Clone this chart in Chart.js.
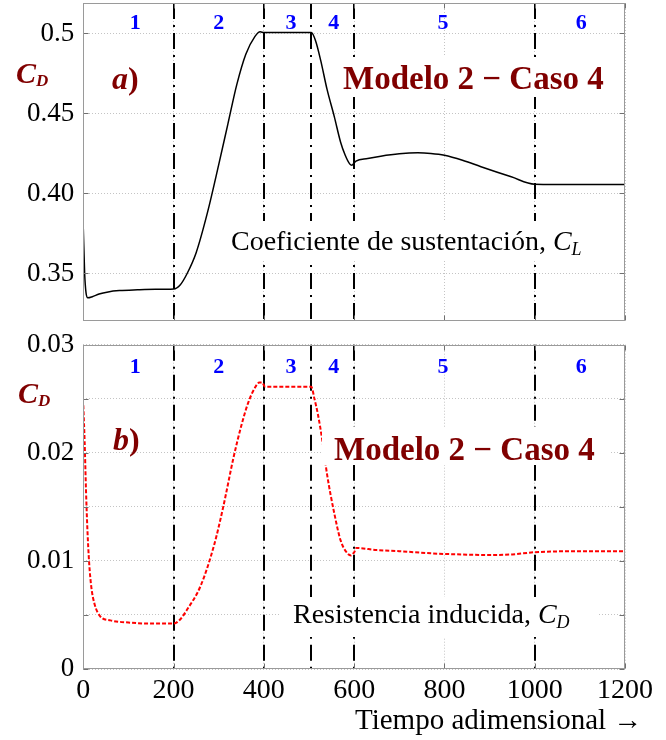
<!DOCTYPE html>
<html>
<head>
<meta charset="utf-8">
<script src="https://cdn.jsdelivr.net/npm/chart.js@4.4.1/dist/chart.umd.min.js"></script>
<style>
  html, body { margin: 0; padding: 0; background: #fff; }
  #wrap { position: relative; width: 666px; height: 740px; overflow: hidden; }
  .panel { position: absolute; left: 0; width: 666px; }
  #top { top: 0; height: 330px; }
  #bottom { top: 326px; height: 414px; }
</style>
</head>
<body>
<div id="wrap">
  <div class="panel" id="top"><canvas id="cl"></canvas></div>
  <div class="panel" id="bottom"><canvas id="cd"></canvas></div>
</div>
<script>
// time axis and manoeuvre stages
const timeTicks = [0, 200, 400, 600, 800, 1000, 1200];
const stageBounds = [200, 400, 505, 600, 1000];
const stageNames = ['1', '2', '3', '4', '5', '6'];
const stageCenters = [115, 300, 460, 555, 797, 1103];

// lift coefficient
const clTime = [0, 3, 6, 10, 20, 35, 55, 80, 120, 160, 200, 215, 230, 250, 275, 300, 320, 340, 360, 380,
  392, 400, 450, 505, 515, 526, 540, 556, 570, 580, 590, 595, 604, 630, 659, 700, 741, 770, 800, 840,
  881, 948, 1000, 1100, 1200];
const clValue = [0.378, 0.350, 0.338, 0.3348, 0.3355, 0.3372, 0.3385, 0.3393, 0.3398, 0.3401, 0.3403,
  0.343, 0.350, 0.363, 0.388, 0.418, 0.443, 0.468, 0.487, 0.498, 0.501, 0.5005, 0.5005, 0.5005, 0.495,
  0.483, 0.465, 0.448, 0.432, 0.424, 0.4185, 0.4177, 0.4202, 0.4218, 0.4233, 0.4248, 0.4254, 0.4250,
  0.4239, 0.4208, 0.4167, 0.4104, 0.4058, 0.4056, 0.4056];
const clTicks = [0.35, 0.40, 0.45, 0.5];
const clTickLabels = ['0.35', '0.40', '0.45', '0.5'];

// induced drag
const cdTime = [0, 3, 6, 9, 13, 18, 25, 37, 60, 100, 150, 200, 215, 230, 260, 290, 310, 333, 350, 365,
  380, 390, 396, 403, 450, 505, 512, 520, 530, 540, 556, 570, 585, 593, 600, 605, 650, 700, 770, 850,
  900, 950, 1000, 1100, 1200];
const cdValue = [0.0244, 0.021, 0.0165, 0.013, 0.0098, 0.0075, 0.0060, 0.0049, 0.0045, 0.0043, 0.0042,
  0.0042, 0.0046, 0.0055, 0.0077, 0.0115, 0.015, 0.0196, 0.0225, 0.0246, 0.026, 0.0265, 0.0265, 0.0261,
  0.0261, 0.0261, 0.025, 0.0235, 0.021, 0.018, 0.0144, 0.0119, 0.0107, 0.0105, 0.0108, 0.0112, 0.0110,
  0.0109, 0.0107, 0.01058, 0.01055, 0.0106, 0.0108, 0.0109, 0.0109];
const cdTicks = [0, 0.005, 0.01, 0.015, 0.02, 0.025, 0.03];
const cdTickLabels = ['0', '', '0.01', '', '0.02', '', '0.03'];

const SERIF = '"Liberation Serif", "Times New Roman", serif';
const MAROON = '#800000';
const f = (style, size) => style + ' ' + size + 'px ' + SERIF;

// text pieces drawn left to right, each with its own font and baseline shift
function drawRun(ctx, x, y, parts, color) {
  ctx.fillStyle = color;
  ctx.textBaseline = 'alphabetic';
  ctx.textAlign = 'left';
  for (const p of parts) {
    ctx.font = p.font;
    ctx.fillText(p.text, x, y + (p.dy || 0));
    x += ctx.measureText(p.text).width;
  }
}

const panelDecor = {
  id: 'panelDecor',
  beforeDatasetsDraw(chart) {
    const { ctx, chartArea: a, scales: { x } } = chart;
    ctx.save();
    ctx.strokeStyle = '#000';
    ctx.lineWidth = 2;
    ctx.setLineDash([16, 6, 2, 6]);
    stageBounds.forEach(t => {
      const px = Math.round(x.getPixelForValue(t));
      ctx.beginPath();
      ctx.moveTo(px, a.top);
      ctx.lineTo(px, a.bottom);
      ctx.stroke();
    });
    ctx.restore();
  },
  afterDatasetsDraw(chart, args, opts) {
    const { ctx, scales: { x } } = chart;
    ctx.save();
    // stage numbers
    ctx.fillStyle = '#0000ff';
    ctx.font = f('bold', 22);
    ctx.textAlign = 'center';
    ctx.textBaseline = 'alphabetic';
    stageNames.forEach((s, i) => ctx.fillText(s, x.getPixelForValue(stageCenters[i]), opts.stageY));
    // labels, some on white boxes
    opts.labels.forEach(l => {
      if (l.box) {
        ctx.fillStyle = '#fff';
        ctx.fillRect(l.box[0], l.box[1], l.box[2], l.box[3]);
      }
      drawRun(ctx, l.x, l.y, l.parts, l.color);
    });
    ctx.restore();
  },
  afterDraw(chart) {
    const { ctx, chartArea: a, scales: { x, y } } = chart;
    const L = Math.round(a.left) + 0.5, R = Math.round(a.right) - 0.5;
    const T = Math.round(a.top) + 0.5, B = Math.round(a.bottom) - 0.5;
    ctx.save();
    ctx.strokeStyle = '#707070';
    ctx.lineWidth = 1;
    ctx.beginPath();
    x.ticks.forEach(t => {
      const px = Math.round(x.getPixelForValue(t.value)) + 0.5;
      ctx.moveTo(px, B); ctx.lineTo(px, B - 5);
      ctx.moveTo(px, T); ctx.lineTo(px, T + 5);
    });
    y.ticks.forEach(t => {
      const py = Math.round(y.getPixelForValue(t.value)) + 0.5;
      ctx.moveTo(L, py); ctx.lineTo(L + 5, py);
      ctx.moveTo(R, py); ctx.lineTo(R - 5, py);
    });
    ctx.stroke();
    ctx.strokeStyle = '#9a9a9a';
    ctx.strokeRect(L, T, R - L, B - T);
    ctx.restore();
  }
};

function pts(xs, ys) {
  return xs.map((t, i) => ({ x: t, y: ys[i] }));
}

function xAxis(showLabels, height) {
  return {
    type: 'linear', min: 0, max: 1200,
    afterBuildTicks: s => { s.ticks = timeTicks.map(v => ({ value: v })); },
    grid: { color: '#c4c4c4', drawTicks: false },
    border: { display: false, dash: [1, 2] },
    ticks: { display: showLabels, color: '#000', font: { family: SERIF, size: 28 }, padding: 5, maxRotation: 0,
      callback: v => String(v) },
    afterFit: s => { s.height = height; s.paddingLeft = 0; s.paddingRight = 0; }
  };
}

function yAxis(min, max, ticks, labels) {
  return {
    type: 'linear', min: min, max: max,
    afterBuildTicks: s => { s.ticks = ticks.map(v => ({ value: v })); },
    grid: { color: '#c4c4c4', drawTicks: false },
    border: { display: false, dash: [1, 2] },
    ticks: { color: '#000', font: { family: SERIF, size: 27 }, padding: 9,
      callback: (v, i) => labels[i] },
    afterFit: s => { s.width = 83.3; s.paddingTop = 0; s.paddingBottom = 0; }
  };
}

const cdTag = [
  { text: 'C', font: f('italic bold', 30) },
  { text: 'D', font: f('italic bold', 17), dy: 3 }
];
const modelo = [{ text: 'Modelo 2 \u2212 Caso 4', font: f('bold', 33) }];

new Chart(document.getElementById('cl'), {
  type: 'line',
  data: {
    datasets: [{
      data: pts(clTime, clValue),
      borderColor: '#000', borderWidth: 1.5, pointRadius: 0,
      cubicInterpolationMode: 'monotone'
    }]
  },
  options: {
    responsive: true, maintainAspectRatio: false, animation: false, devicePixelRatio: 1,
    layout: { padding: { left: 0, right: 41, top: 3, bottom: 0 } },
    plugins: {
      legend: { display: false }, tooltip: { enabled: false },
      panelDecor: {
        stageY: 29,
        labels: [
          { x: 16, y: 83, parts: cdTag, color: MAROON },
          { x: 112, y: 89, parts: [{ text: 'a', font: f('italic bold', 32) }, { text: ')', font: f('bold', 32) }], color: MAROON },
          { box: [338, 57, 270, 40], x: 343, y: 89, parts: modelo, color: MAROON },
          { box: [227, 221, 374, 38], x: 231, y: 250, color: '#000', parts: [
            { text: 'Coeficiente de sustentaci\u00f3n, ', font: f('', 28) },
            { text: 'C', font: f('italic', 28) },
            { text: 'L', font: f('italic', 18), dy: 5 }
          ] }
        ]
      }
    },
    scales: {
      x: xAxis(false, 330 - 320.7),
      y: yAxis(0.3205, 0.519, clTicks, clTickLabels)
    }
  },
  plugins: [panelDecor]
});

new Chart(document.getElementById('cd'), {
  type: 'line',
  data: {
    datasets: [{
      data: pts(cdTime, cdValue),
      borderColor: '#ff0000', borderWidth: 2, borderDash: [4, 2], pointRadius: 0,
      cubicInterpolationMode: 'monotone'
    }]
  },
  options: {
    responsive: true, maintainAspectRatio: false, animation: false, devicePixelRatio: 1,
    layout: { padding: { left: 0, right: 41, top: 18.7, bottom: 0 } },
    plugins: {
      legend: { display: false }, tooltip: { enabled: false },
      panelDecor: {
        stageY: 47,
        labels: [
          { x: 18, y: 77, parts: cdTag, color: MAROON },
          { x: 113, y: 124, parts: [{ text: 'b', font: f('italic bold', 32) }, { text: ')', font: f('bold', 32) }], color: MAROON },
          { box: [322, 101, 288, 38], x: 334, y: 134, parts: modelo, color: MAROON },
          { box: [280, 271, 317, 40], x: 293, y: 297, color: '#000', parts: [
            { text: 'Resistencia inducida, ', font: f('', 28) },
            { text: 'C', font: f('italic', 28) },
            { text: 'D', font: f('italic', 18), dy: 5 }
          ] },
          { x: 355, y: 403, color: '#000', parts: [{ text: 'Tiempo adimensional \u2192', font: f('', 29) }] }
        ]
      }
    },
    scales: {
      x: xAxis(true, 414 - 343),
      y: yAxis(0, 0.03, cdTicks, cdTickLabels)
    }
  },
  plugins: [panelDecor]
});
</script>
</body>
</html>
